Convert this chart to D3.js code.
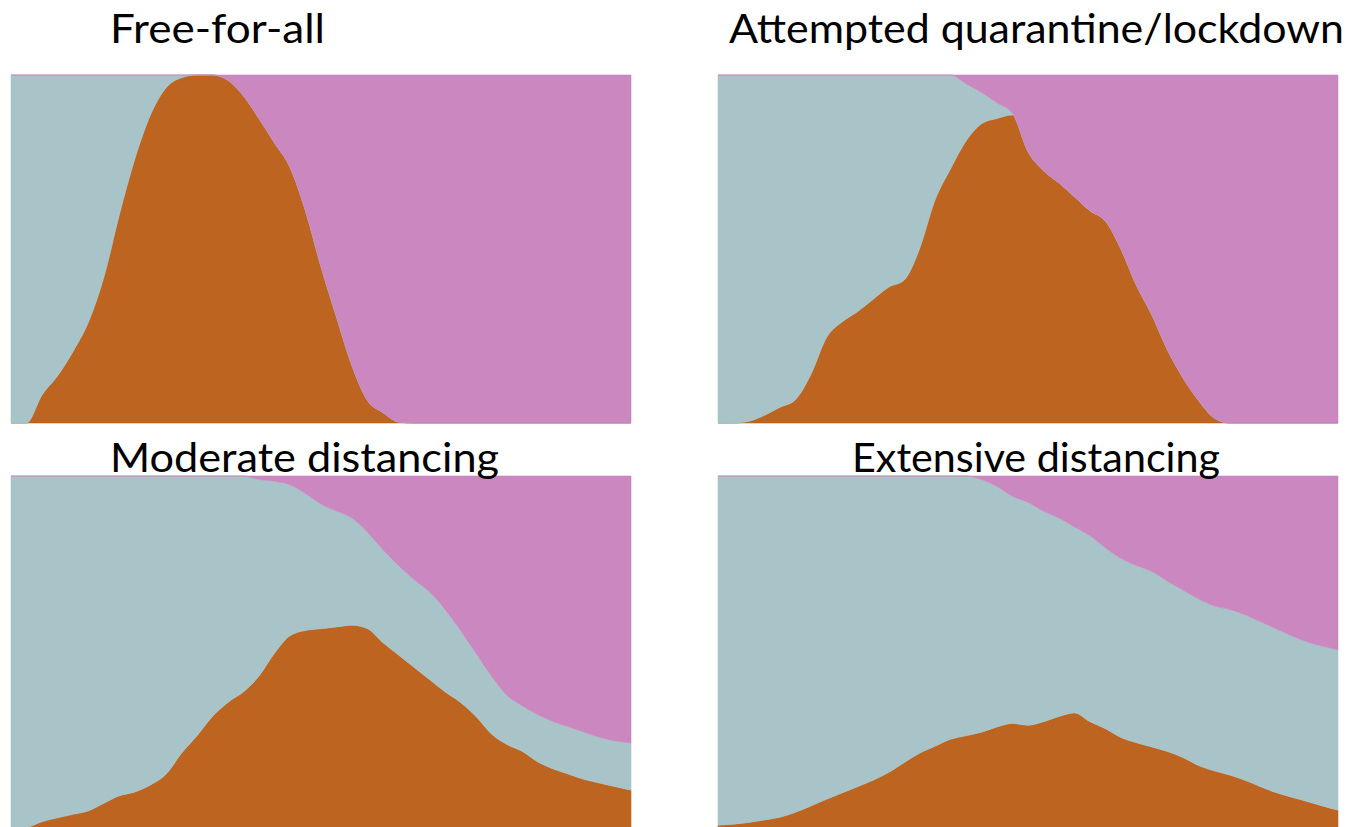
<!DOCTYPE html>
<html>
<head>
<meta charset="utf-8">
<script src="https://cdn.jsdelivr.net/npm/d3@7"></script>
<style>
  html, body { margin: 0; padding: 0; background: #ffffff; }
  svg { display: block; }
</style>
</head>
<body>
<svg id="chart" width="1355" height="827"></svg>
<script>
// ---------- DATA (share of population, %, at 41 equal time steps) ----------
const titles = ["Free-for-all", "Attempted quarantine/lockdown", "Moderate distancing", "Extensive distancing"];
const seriesKeys = ["sick", "healthy", "recovered"];
const steps = d3.range(41);

const freeSick = [0,0,8,13.5,20.5,29,42,60,76,88.5,96.3,99.2,100,100,98.5,94,87.5,80.5,73.5,61,45,30.5,16.5,6.5,3,0.3,0,0,0,0,0,0,0,0,0,0,0,0,0,0,0];
const freeHealthy = [100,100,92,86.5,79.5,71,58,40,24,11.5,3.7,0.8,0,0,0,0,0,0,0,0,0,0,0,0,0,0,0,0,0,0,0,0,0,0,0,0,0,0,0,0,0];
const freeRecovered = [0,0,0,0,0,0,0,0,0,0,0,0,0,0,1.5,6,12.5,19.5,26.5,39,55,69.5,83.5,93.5,97,99.7,100,100,100,100,100,100,100,100,100,100,100,100,100,100,100];

const quarSick = [0,0,0.5,2.2,4.5,6.7,14,24.5,29,32,35.5,39,41,50,64,73,81,86,87.5,88.5,78,72.5,69,65,61,58,50,39.5,31,21,13,6.5,1.5,0,0,0,0,0,0,0,0];
const quarHealthy = [100,100,99.5,97.8,95.5,93.3,86,75.5,71,68,64.5,61,59,50,36,27,16.5,9,4.5,0.5,0,0,0,0,0,0,0,0,0,0,0,0,0,0,0,0,0,0,0,0,0];
const quarRecovered = [0,0,0,0,0,0,0,0,0,0,0,0,0,0,0,0,2.5,5,8,11,22,27.5,31,35,39,42,50,60.5,69,79,87,93.5,98.5,100,100,100,100,100,100,100,100];

const modSick = [0,0,1.5,2.6,3.6,4.6,6.8,8.9,10,12,15,21,26,31.5,35.5,38.5,43,49.5,54.5,56,56.5,57,57.5,56.5,52.5,49,45.5,42,38.5,35.5,31.5,26.5,23.5,21.5,18.5,16.5,15,13.5,12.5,11.5,10.5];
const modHealthy = [100,100,98.5,97.4,96.4,95.4,93.2,91.1,90,88,85,79,74,68.5,64.5,61.5,56,49,43,39,35.5,33,30.5,27.5,26.5,25.5,25,25,23.5,20.5,18,16.5,14,13,13.5,13.5,13.5,13.5,13,13,13.5];
const modRecovered = [0,0,0,0,0,0,0,0,0,0,0,0,0,0,0,0,1,1.5,2.5,5,8,10,12,16,21,25.5,29.5,33,38,44,50.5,57,62.5,65.5,68,70,71.5,73,74.5,75.5,76];

const extSick = [0.5,0.8,1.3,2,2.8,4.2,6,7.9,9.7,11.5,13.3,15.5,18.3,21,23,25,26,27,28.5,29.5,29,30,31.5,32.5,30,28,25.5,24,22.8,21.5,19.8,17.5,16,14.8,13.3,11.5,9.8,8.5,7.3,6,4.8];
const extHealthy = [99.5,99.2,98.7,98,97.2,95.8,94,92.1,90.3,88.5,86.7,84.5,81.7,79,77,75,74,72,68.5,64.7,63.5,60,56.5,53,53,51.5,51,50.5,50,48.5,47.7,47.5,47,47.2,47.2,47,46.7,46,45.5,45.5,45.7];
const extRecovered = [0,0,0,0,0,0,0,0,0,0,0,0,0,0,0,0,0,1,3,5.8,7.5,10,12,14.5,17,20.5,23.5,25.5,27.2,30,32.5,35,37,38,39.5,41.5,43.5,45.5,47.2,48.5,49.5];

// ---------- LAYOUT ----------
const colors = { sick: "#bd6420", healthy: "#a9c4c8", recovered: "#cb87bf" };
const panelW = 620;
const panels = [
  { title: titles[0], sick: freeSick, healthy: freeHealthy, recovered: freeRecovered, x: 11, y: 75, h: 348, tx: 110, tw: 215, ty: 43 },
  { title: titles[1], sick: quarSick, healthy: quarHealthy, recovered: quarRecovered, x: 718, y: 75, h: 348, tx: 729, tw: 615, ty: 43 },
  { title: titles[2], sick: modSick, healthy: modHealthy, recovered: modRecovered, x: 11, y: 476, h: 351, tx: 110, tw: 389, ty: 472 },
  { title: titles[3], sick: extSick, healthy: extHealthy, recovered: extRecovered, x: 718, y: 476, h: 351, tx: 852, tw: 368, ty: 472 }
];

const svg = d3.select("#chart");

panels.forEach(p => {
  const table = steps.map((t, i) => ({ t, sick: p.sick[i], healthy: p.healthy[i], recovered: p.recovered[i] }));
  const stacked = d3.stack().keys(seriesKeys)(table);
  const x = d3.scaleLinear().domain([0, steps.length - 1]).range([p.x, p.x + panelW]);
  const y = d3.scaleLinear().domain([0, 100]).range([p.y + p.h, p.y]);
  const area = d3.area()
    .x(d => x(d.data.t))
    .y0(d => y(d[0]))
    .y1(d => y(d[1]))
    .curve(d3.curveMonotoneX);

  const g = svg.append("g");
  g.selectAll("path")
    .data(stacked)
    .join("path")
    .attr("d", area)
    .attr("fill", d => colors[d.key])
    .attr("stroke", d => colors[d.key])
    .attr("stroke-width", 0.6);
});

// titles drawn last so descenders overlap the lower panels as in the reference
panels.forEach(p => {
  svg.append("text")
    .attr("x", p.tx)
    .attr("y", p.ty)
    .attr("textLength", p.tw)
    .attr("lengthAdjust", "spacingAndGlyphs")
    .attr("font-family", "Lato, 'Open Sans', sans-serif")
    .attr("font-size", 41)
    .attr("fill", "#000")
    .text(p.title);
});
</script>
</body>
</html>
